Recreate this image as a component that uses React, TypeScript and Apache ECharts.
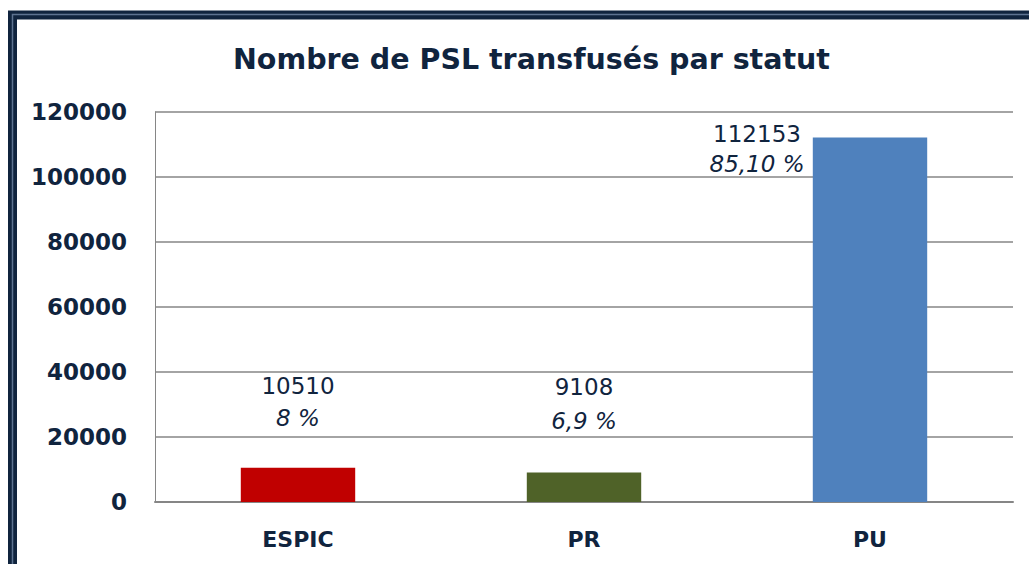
import React, { useEffect, useRef } from "react";
import * as echarts from "echarts";

const categories = ["ESPIC", "PR", "PU"];
const values = [10510, 9108, 112153];
const percents = ["8 %", "6,9 %", "85,10 %"];
const colors = ["#C00000", "#4F6228", "#4F81BD"];
const yTicks = { min: 0, max: 120000, interval: 20000 };
const titleText = "Nombre de PSL transfusés par statut";

const NAVY = "#10243E";

export default function App() {
  const ref = useRef<HTMLDivElement>(null);
  useEffect(() => {
    if (!ref.current) return;
    const chart = echarts.init(ref.current, null, { renderer: "svg" });
    const labelPos: any[] = [
      { position: "top", distance: 34, lh: 32 },
      { position: "top", distance: 34, lh: 34 },
      { position: "top", distance: 5, offset: [-113, 46], lh: 30 },
    ];
    chart.setOption({
      animation: false,
      backgroundColor: "#ffffff",
      title: {
        text: titleText,
        left: 228,
        top: 40,
        textStyle: {
          fontFamily: "DejaVu Sans",
          fontWeight: "bold",
          fontSize: 28.5,
          color: NAVY,
        },
      },
      grid: { left: 155, right: 16, top: 112, bottom: 62, containLabel: false },
      xAxis: {
        type: "category",
        data: categories,
        axisLine: { show: true, lineStyle: { color: "#868686", width: 2 } },
        axisTick: { show: false },
        axisLabel: {
          margin: 26,
          fontFamily: "DejaVu Sans",
          fontWeight: "bold",
          fontSize: 22,
          color: NAVY,
        },
      },
      yAxis: {
        type: "value",
        min: yTicks.min,
        max: yTicks.max,
        interval: yTicks.interval,
        axisLine: { show: true, lineStyle: { color: "#868686", width: 1 } },
        axisTick: { show: false },
        splitLine: { lineStyle: { color: "#868686", width: 1.5 } },
        axisLabel: {
          margin: 28,
          formatter: (v: number) => String(v),
          fontFamily: "DejaVu Sans",
          fontWeight: "bold",
          fontSize: 23,
          color: NAVY,
        },
      },
      series: [
        {
          type: "bar",
          barWidth: "40%",
          data: values.map((v, i) => {
            const { lh, ...pos } = labelPos[i];
            return {
              value: v,
              itemStyle: { color: colors[i] },
              label: {
                show: true,
                ...pos,
                formatter: () => `{a|${v}}\n{b|${percents[i]}}`,
                rich: {
                  a: {
                    fontFamily: "DejaVu Sans",
                    fontSize: 23,
                    color: NAVY,
                    lineHeight: lh,
                    align: "center",
                  },
                  b: {
                    fontFamily: "DejaVu Sans",
                    fontStyle: "italic",
                    fontSize: 23,
                    color: NAVY,
                    lineHeight: lh,
                    align: "center",
                  },
                },
              },
            };
          }),
        },
      ],
      graphic: [
        {
          type: "rect",
          shape: { x: 12.5, y: 15, width: 1040, height: 600 },
          style: { fill: "none", stroke: NAVY, lineWidth: 9 },
          silent: true,
        },
        {
          type: "rect",
          shape: { x: 12.5, y: 14.5, width: 1040, height: 600 },
          style: { fill: "none", stroke: "#5E7391", lineWidth: 1.5 },
          silent: true,
        },
      ],
    });
    return () => chart.dispose();
  }, []);
  return (
    <div
      ref={ref}
      style={{ position: "fixed", left: 0, top: 0, width: 1029, height: 564 }}
    />
  );
}
